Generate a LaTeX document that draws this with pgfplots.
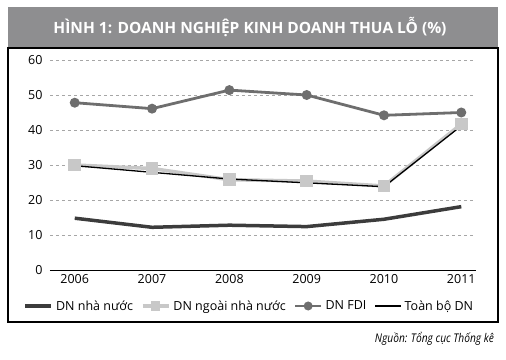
\documentclass[border=0pt]{standalone}
\usepackage{fontspec}
\setmainfont{Open Sans}
\usepackage{pgfplots}
\pgfplotsset{compat=1.18}
\definecolor{banner}{HTML}{8E8E90}
\definecolor{dnnn}{HTML}{3C3C3C}
\definecolor{dnngoai}{HTML}{C8C8C8}
\definecolor{dnfdi}{HTML}{6E6E6E}
\begin{document}
\begin{tikzpicture}
\useasboundingbox (0pt,0pt) rectangle (506pt,359pt);
\fill[banner] (8pt,312pt) rectangle (498pt,352pt);
\node[white,font=\fontsize{15.5}{17}\selectfont\bfseries] at (250pt,332pt) {HÌNH 1: DOANH NGHIỆP KINH DOANH THUA LỖ (\%)};
\draw[black,line width=1.2pt] (8pt,311pt) rectangle (498pt,37pt);
\node[anchor=east,font=\fontsize{12}{14}\selectfont\itshape,xscale=0.85] at (497pt,20pt) {Nguồn: Tổng cục Thống kê};
\begin{axis}[
  at={(50pt,89pt)}, anchor=south west,
  scale only axis, width=426pt, height=210pt,
  xmin=2005.68, xmax=2011.19, ymin=0, ymax=60,
  xtick={2006,...,2011}, ytick={0,10,...,60},
  x tick label style={/pgf/number format/1000 sep={}},
  /pgf/number format/assume math mode=true,
  tick label style={font=\fontsize{12.5}{14}\selectfont},
  major tick length=0pt,
  axis y line=left, axis x line*=bottom,
  y axis line style={draw=none},
  x axis line style={black,line width=0.8pt,-},
  ymajorgrids, grid style={dashed,gray!70,line width=0.5pt},
  yticklabel style={xshift=-4pt},
  xticklabel style={yshift=-1pt},
  legend style={at={(0.468,-0.125)}, anchor=north, draw=none, fill=none,
    legend columns=4, font=\fontsize{12.5}{14}\selectfont,
    /tikz/every even column/.append style={column sep=6pt},
    /tikz/every odd column/.append style={column sep=1pt}},
  legend image code/.code={\draw[mark repeat=2,mark phase=2] plot coordinates {(0pt,0pt) (13pt,0pt) (26pt,0pt)};},
  legend image post style={mark size=3pt},
  legend cell align=left,
  clip=false,
]
\addplot[dnnn,line width=3.5pt] coordinates {(2006,14.8) (2007,12.2) (2008,12.8) (2009,12.4) (2010,14.5) (2011,18.1)};
\addlegendentry{DN nhà nước}
\addplot[dnngoai,line width=3.5pt,mark=square*,mark size=4.5pt,mark options={solid}] coordinates {(2006,30.0) (2007,29.0) (2008,25.8) (2009,25.4) (2010,24.0) (2011,41.7)};
\addlegendentry{DN ngoài nhà nước}
\addplot[dnfdi,line width=2.8pt,mark=*,mark size=3.5pt] coordinates {(2006,47.8) (2007,46.1) (2008,51.4) (2009,50.0) (2010,44.2) (2011,45.0)};
\addlegendentry{DN FDI}
\addplot[black,line width=1.3pt] coordinates {(2006,29.8) (2007,27.9) (2008,26.0) (2009,24.9) (2010,23.8) (2011,41.2)};
\addlegendentry{Toàn bộ DN}
\end{axis}
\end{tikzpicture}
\end{document}
